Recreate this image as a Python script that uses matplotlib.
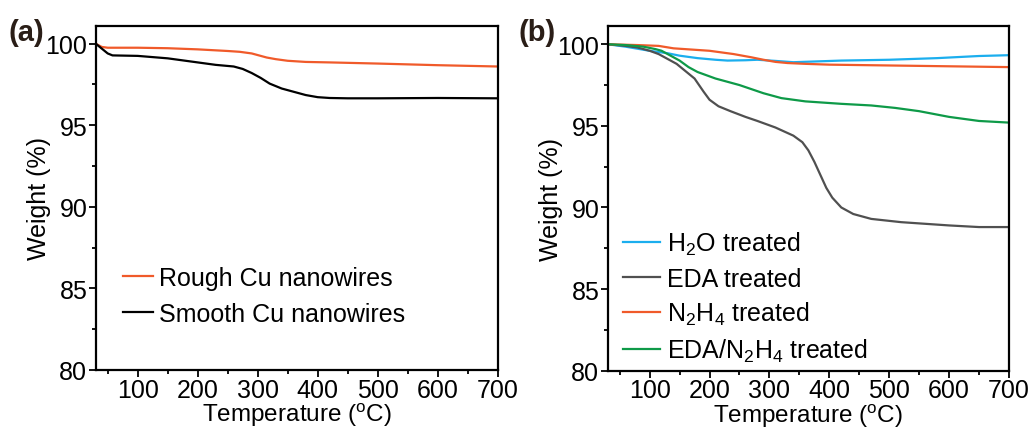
import matplotlib
matplotlib.use("Agg")
import matplotlib.pyplot as plt
from matplotlib.ticker import MultipleLocator

plt.rcParams['font.family'] = ['Liberation Sans', 'DejaVu Sans']
plt.rcParams['mathtext.fontset'] = 'custom'
plt.rcParams['mathtext.rm'] = 'Liberation Sans'
plt.rcParams['mathtext.it'] = 'Liberation Sans'
plt.rcParams['mathtext.bf'] = 'Liberation Sans:bold'

# ---- Panel (a) data ----
rough_x = [30, 40, 50, 100, 150, 200, 250, 270, 290, 300, 315, 330, 350, 380, 420, 500, 600, 700]
rough_y = [100, 99.8, 99.75, 99.75, 99.72, 99.65, 99.55, 99.5, 99.4, 99.3, 99.15, 99.05, 98.95,
           98.88, 98.85, 98.78, 98.68, 98.6]
smooth_x = [30, 40, 50, 58, 100, 150, 200, 230, 260, 275, 290, 305, 320, 340, 360, 380, 400, 420,
            450, 500, 550, 600, 650, 700]
smooth_y = [100, 99.7, 99.4, 99.28, 99.25, 99.1, 98.85, 98.7, 98.6, 98.45, 98.2, 97.9, 97.55,
            97.25, 97.05, 96.85, 96.72, 96.67, 96.65, 96.65, 96.66, 96.67, 96.66, 96.65]

# ---- Panel (b) data ----
h2o_x = [30, 60, 100, 130, 150, 180, 210, 230, 260, 280, 310, 340, 380, 420, 500, 580, 650, 700]
h2o_y = [100, 99.85, 99.6, 99.45, 99.3, 99.15, 99.05, 99.0, 99.02, 99.05, 98.98, 98.9, 98.95,
         99.0, 99.05, 99.15, 99.28, 99.33]
eda_x = [30, 60, 80, 100, 115, 130, 145, 160, 175, 190, 200, 215, 235, 260, 280, 310, 340, 355,
         365, 375, 385, 395, 405, 420, 440, 470, 520, 600, 650, 700]
eda_y = [100, 99.9, 99.8, 99.6, 99.4, 99.1, 98.8, 98.35, 97.9, 97.1, 96.6, 96.2, 95.9, 95.55,
         95.3, 94.9, 94.4, 94.0, 93.5, 92.8, 92.0, 91.2, 90.6, 90.0, 89.6, 89.3, 89.1, 88.9, 88.8,
         88.8]
n2h4_x = [30, 80, 115, 140, 200, 240, 270, 290, 310, 330, 360, 400, 500, 600, 700]
n2h4_y = [100, 99.95, 99.9, 99.75, 99.6, 99.4, 99.2, 99.05, 98.92, 98.85, 98.8, 98.75, 98.7,
          98.65, 98.6]
mix_x = [30, 60, 90, 110, 120, 135, 150, 165, 180, 210, 250, 290, 320, 360, 420, 470, 510, 550,
         600, 650, 700]
mix_y = [100, 99.95, 99.85, 99.7, 99.6, 99.3, 99.0, 98.6, 98.3, 97.9, 97.5, 97.0, 96.7, 96.5,
         96.35, 96.25, 96.1, 95.9, 95.55, 95.3, 95.2]

orange = '#F05A2A'
blue = '#1BAEEE'
gray = '#505050'
green = '#0E9A48'

fig = plt.figure(figsize=(10.31, 4.31), dpi=100)
W, H = 1031, 431
ax1 = fig.add_axes([95.7 / W, 1 - 371 / H, (497.7 - 95.7) / W, (371 - 26.7) / H])
ax2 = fig.add_axes([607.7 / W, 1 - 371.7 / H, (1009 - 607.7) / W, (371.7 - 27.3) / H])

lw = 1.6
ax1.plot(rough_x, rough_y, color=orange, lw=lw, label='Rough Cu nanowires')
ax1.plot(smooth_x, smooth_y, color='black', lw=lw, label='Smooth Cu nanowires')

ax2.plot(h2o_x, h2o_y, color=blue, lw=lw, label=r'H$_2$O treated')
ax2.plot(eda_x, eda_y, color=gray, lw=lw, label='EDA treated')
ax2.plot(n2h4_x, n2h4_y, color=orange, lw=lw, label=r'N$_2$H$_4$ treated')
ax2.plot(mix_x, mix_y, color=green, lw=lw, label=r'EDA/N$_2$H$_4$ treated')

fs = 18
for ax in (ax1, ax2):
    ax.set_xlim(30, 700)
    ax.set_ylim(80, 101.1)
    ax.xaxis.set_major_locator(MultipleLocator(100))
    ax.xaxis.set_minor_locator(MultipleLocator(50))
    ax.yaxis.set_major_locator(MultipleLocator(5))
    ax.yaxis.set_minor_locator(MultipleLocator(2.5))
    ax.tick_params(which='major', direction='out', length=5, width=1.3, labelsize=fs, pad=1)
    ax.tick_params(axis='x', which='major', pad=0.5)
    ax.tick_params(which='minor', direction='out', length=3, width=1.3)
    for s in ax.spines.values():
        s.set_linewidth(1.6)
    ax.set_xlabel(r'Temperature ($^{\rm o}$C)', fontsize=17.5, labelpad=-0.5)
    ax.set_ylabel('Weight (%)', fontsize=fs, labelpad=-4)

ax1.legend(loc='upper left', bbox_to_anchor=(0.068, 0.303), frameon=False, fontsize=fs,
           handlelength=1.2, handletextpad=0.25, labelspacing=0.5, borderaxespad=0, borderpad=0)
ax2.legend(loc='upper left', bbox_to_anchor=(0.038, 0.408), frameon=False, fontsize=fs,
           handlelength=1.5, handletextpad=0.28, labelspacing=0.37, borderaxespad=0, borderpad=0)

fig.text(9 / W, 1 - 33 / H, '(a)', fontsize=21, fontweight='bold', color='#2A1E17', va='center')
fig.text(519 / W, 1 - 33 / H, '(b)', fontsize=21, fontweight='bold', color='#2A1E17', va='center')

fig.savefig('out.png', dpi=100)
